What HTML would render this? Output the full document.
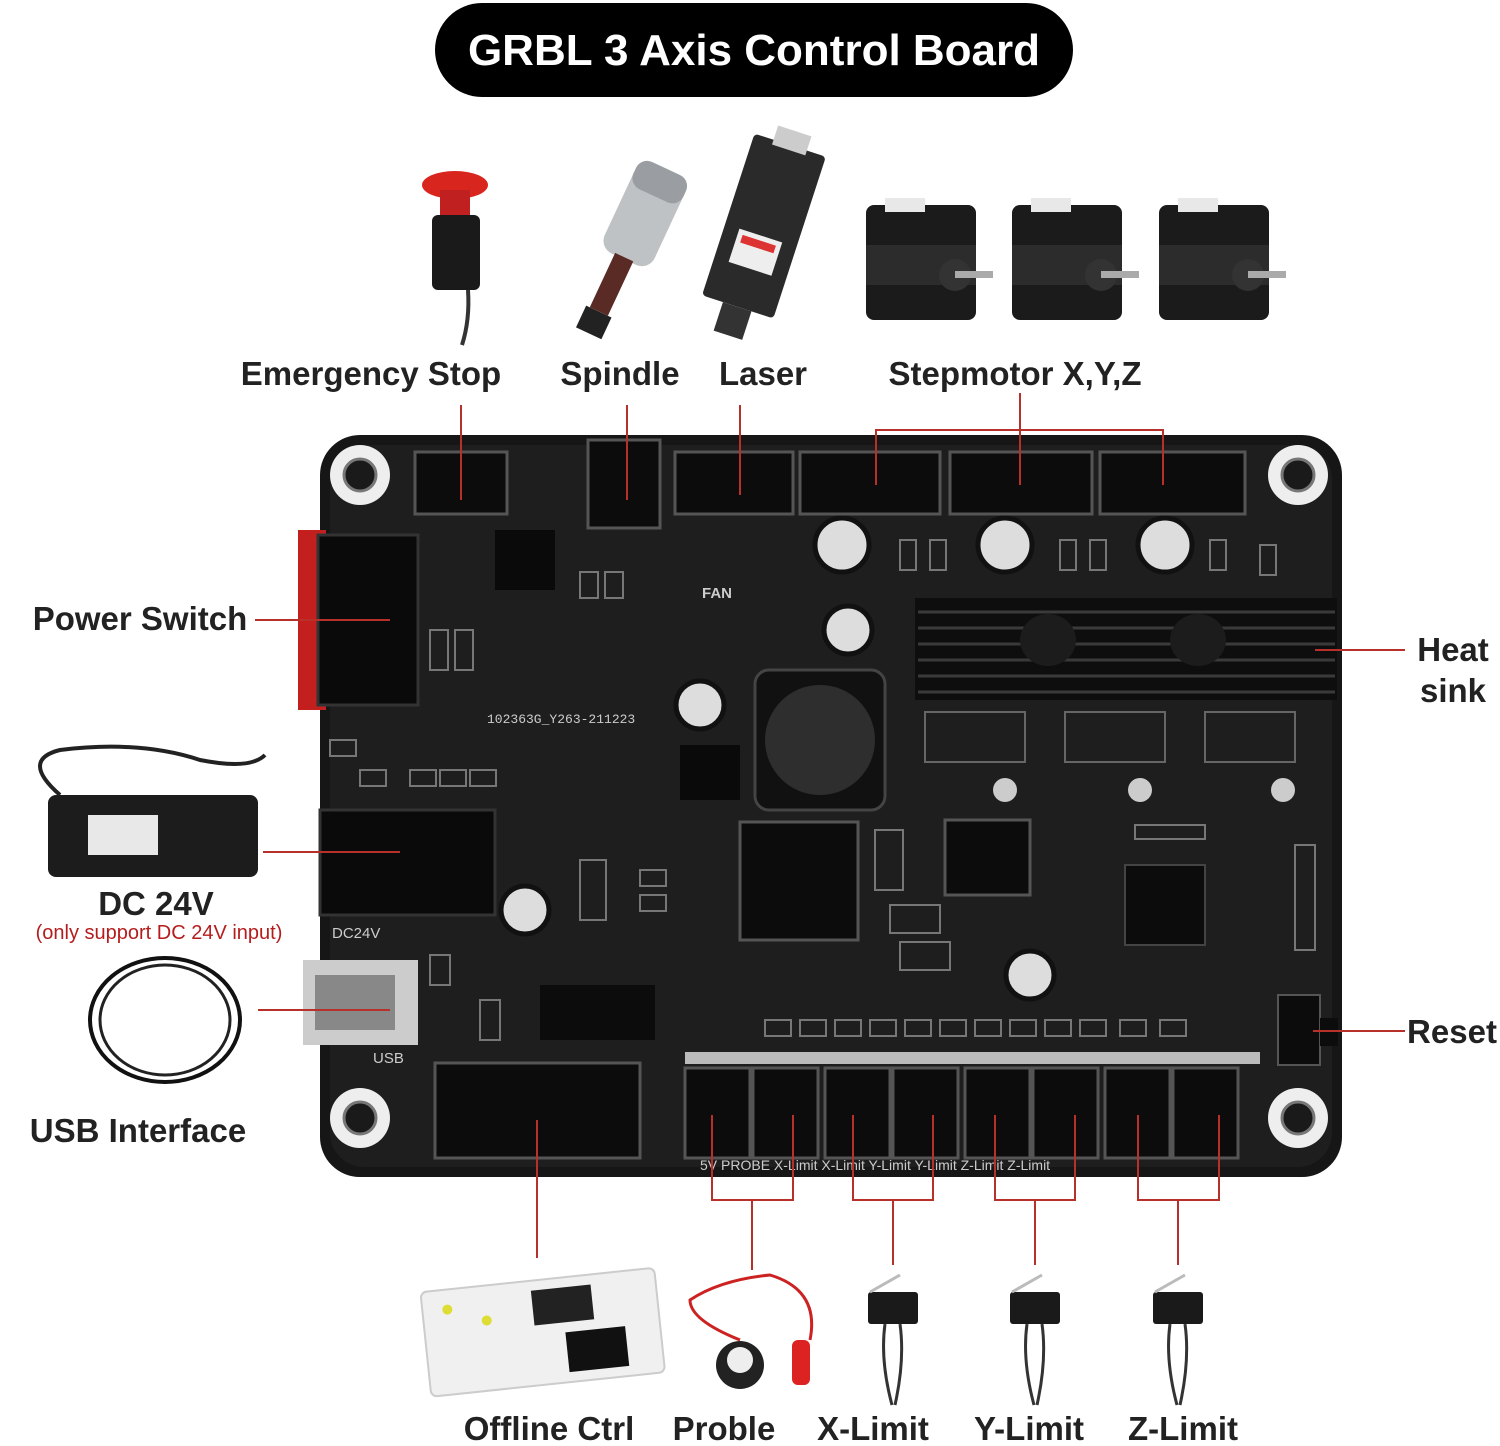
<!DOCTYPE html>
<html><head><meta charset="utf-8"><style>
html,body{margin:0;padding:0;background:#fff;width:1500px;height:1446px;overflow:hidden}
svg{display:block}
text{font-family:"Liberation Sans","DejaVu Sans",sans-serif;font-weight:bold;fill:#222}
</style></head><body>
<svg width="1500" height="1446" viewBox="0 0 1500 1446" xmlns="http://www.w3.org/2000/svg">
<rect x="435" y="3" width="638" height="94" rx="47" fill="#000"/>
<text x="754" y="65" font-size="44" text-anchor="middle" style="fill:#fff">GRBL 3 Axis Control Board</text>

<ellipse cx="455" cy="185" rx="33" ry="14" fill="#d8261f"/>
<rect x="440" y="190" width="30" height="25" fill="#c02020"/>
<rect x="432" y="215" width="48" height="75" rx="6" fill="#1a1a1a"/>
<path d="M468 290 Q470 320 462 345" stroke="#333" stroke-width="4" fill="none"/>
<g transform="rotate(25 630 240)">
<rect x="605" y="160" width="55" height="100" rx="14" fill="#bfc2c5"/>
<rect x="605" y="160" width="55" height="30" rx="12" fill="#9a9ea2"/>
<rect x="622" y="258" width="20" height="60" fill="#5a2a25"/>
<rect x="618" y="318" width="28" height="24" fill="#222"/>
</g>
<g transform="rotate(18 760 230)">
<rect x="725" y="140" width="75" height="170" rx="4" fill="#2a2a2a"/>
<rect x="740" y="235" width="45" height="35" fill="#eee"/>
<rect x="745" y="240" width="35" height="8" fill="#d33"/>
<rect x="747" y="310" width="30" height="30" fill="#333"/>
<rect x="745" y="125" width="35" height="20" fill="#ccc"/>
</g>
<g id="m"><rect x="866" y="205" width="110" height="115" rx="8" fill="#1b1b1b"/><rect x="866" y="245" width="110" height="40" fill="#2c2c2c"/><circle cx="955" cy="275" r="16" fill="#333"/><rect x="955" y="271" width="38" height="7" fill="#aaa"/><rect x="885" y="198" width="40" height="14" fill="#e8e8e8"/></g>
<use href="#m" x="146"/><use href="#m" x="293"/>

<text x="371" y="385" font-size="33" text-anchor="middle">Emergency Stop</text>
<text x="620" y="385" font-size="33" text-anchor="middle">Spindle</text>
<text x="763" y="385" font-size="33" text-anchor="middle">Laser</text>
<text x="1015" y="385" font-size="33" text-anchor="middle">Stepmotor X,Y,Z</text>

<rect x="320" y="435" width="1022" height="742" rx="40" fill="#161616"/>
<rect x="330" y="445" width="1002" height="722" rx="34" fill="#1e1e1e"/>
<g fill="#eee"><circle cx="360" cy="475" r="30"/><circle cx="1298" cy="475" r="30"/><circle cx="360" cy="1118" r="30"/><circle cx="1298" cy="1118" r="30"/></g>
<g fill="#1a1a1a" stroke="#777" stroke-width="3"><circle cx="360" cy="475" r="16"/><circle cx="1298" cy="475" r="16"/><circle cx="360" cy="1118" r="16"/><circle cx="1298" cy="1118" r="16"/></g>
<!-- small smd parts -->
<g fill="none" stroke="#777" stroke-width="2">
<rect x="580" y="572" width="18" height="26"/><rect x="605" y="572" width="18" height="26"/><rect x="430" y="630" width="18" height="40"/><rect x="455" y="630" width="18" height="40"/>
<rect x="330" y="740" width="26" height="16"/><rect x="360" y="770" width="26" height="16"/><rect x="410" y="770" width="26" height="16"/><rect x="440" y="770" width="26" height="16"/><rect x="470" y="770" width="26" height="16"/>
<rect x="900" y="540" width="16" height="30"/><rect x="930" y="540" width="16" height="30"/><rect x="1060" y="540" width="16" height="30"/><rect x="1090" y="540" width="16" height="30"/><rect x="1210" y="540" width="16" height="30"/><rect x="1260" y="545" width="16" height="30"/>
<rect x="640" y="870" width="26" height="16"/><rect x="640" y="895" width="26" height="16"/><rect x="580" y="860" width="26" height="60"/>
<rect x="890" y="905" width="50" height="28"/><rect x="900" y="942" width="50" height="28"/><rect x="875" y="830" width="28" height="60"/>
<rect x="765" y="1020" width="26" height="16"/><rect x="800" y="1020" width="26" height="16"/><rect x="835" y="1020" width="26" height="16"/><rect x="870" y="1020" width="26" height="16"/><rect x="905" y="1020" width="26" height="16"/><rect x="940" y="1020" width="26" height="16"/><rect x="975" y="1020" width="26" height="16"/><rect x="1010" y="1020" width="26" height="16"/><rect x="1045" y="1020" width="26" height="16"/><rect x="1080" y="1020" width="26" height="16"/><rect x="1120" y="1020" width="26" height="16"/><rect x="1160" y="1020" width="26" height="16"/>
<rect x="1135" y="825" width="70" height="14"/><rect x="1295" y="845" width="20" height="105"/>
<rect x="480" y="1000" width="20" height="40"/><rect x="430" y="955" width="20" height="30"/>
</g>
<g fill="#ccc"><circle cx="1005" cy="790" r="12"/><circle cx="1140" cy="790" r="12"/><circle cx="1283" cy="790" r="12"/></g>
<g fill="#0c0c0c" stroke="#555" stroke-width="3">
<rect x="415" y="452" width="92" height="62"/>
<rect x="588" y="440" width="72" height="88"/>
<rect x="675" y="452" width="118" height="62"/>
<rect x="800" y="452" width="140" height="62"/>
<rect x="950" y="452" width="142" height="62"/>
<rect x="1100" y="452" width="145" height="62"/>
</g>
<rect x="298" y="530" width="28" height="180" fill="#c41f1f"/>
<rect x="318" y="535" width="100" height="170" fill="#0a0a0a" stroke="#333" stroke-width="3"/>
<rect x="915" y="598" width="422" height="102" fill="#0e0e0e"/>
<g stroke="#3a3a3a" stroke-width="3"><line x1="918" y1="612" x2="1335" y2="612"/><line x1="918" y1="628" x2="1335" y2="628"/><line x1="918" y1="644" x2="1335" y2="644"/><line x1="918" y1="660" x2="1335" y2="660"/><line x1="918" y1="676" x2="1335" y2="676"/><line x1="918" y1="692" x2="1335" y2="692"/></g>
<ellipse cx="1048" cy="640" rx="28" ry="26" fill="#1c1c1c"/><ellipse cx="1198" cy="640" rx="28" ry="26" fill="#1c1c1c"/>
<g fill="#ddd" stroke="#111" stroke-width="5"><circle cx="842" cy="545" r="27"/><circle cx="1005" cy="545" r="27"/><circle cx="1165" cy="545" r="27"/><circle cx="848" cy="630" r="24"/><circle cx="700" cy="705" r="24"/><circle cx="525" cy="910" r="24"/><circle cx="1030" cy="975" r="24"/></g>
<rect x="755" y="670" width="130" height="140" rx="14" fill="#111" stroke="#444" stroke-width="3"/>
<circle cx="820" cy="740" r="55" fill="#2e2e2e"/>
<rect x="1125" y="865" width="80" height="80" fill="#0c0c0c" stroke="#444" stroke-width="2"/>
<rect x="540" y="985" width="115" height="55" fill="#0c0c0c"/>
<rect x="740" y="822" width="118" height="118" fill="#0c0c0c" stroke="#555" stroke-width="3"/>
<rect x="945" y="820" width="85" height="75" fill="#0c0c0c" stroke="#555" stroke-width="3"/>
<rect x="680" y="745" width="60" height="55" fill="#0a0a0a"/>
<rect x="495" y="530" width="60" height="60" fill="#0a0a0a"/>
<g fill="none" stroke="#666" stroke-width="2">
<rect x="925" y="712" width="100" height="50"/><rect x="1065" y="712" width="100" height="50"/><rect x="1205" y="712" width="90" height="50"/>
</g>
<text x="487" y="723" font-size="13" style="fill:#ccc;font-weight:normal;font-family:'Liberation Mono',monospace">102363G_Y263-211223</text>
<text x="702" y="598" font-size="15" style="fill:#ccc">FAN</text>
<text x="332" y="938" font-size="15" style="fill:#ccc;font-weight:normal">DC24V</text>
<text x="373" y="1063" font-size="15" style="fill:#ccc;font-weight:normal">USB</text>
<rect x="320" y="810" width="175" height="105" fill="#0a0a0a" stroke="#333" stroke-width="3"/>
<rect x="303" y="960" width="115" height="85" fill="#ccc"/>
<rect x="315" y="975" width="80" height="55" fill="#888"/>
<rect x="1278" y="995" width="42" height="70" fill="#0c0c0c" stroke="#555" stroke-width="2"/>
<rect x="1320" y="1018" width="18" height="28" fill="#0c0c0c"/>
<rect x="685" y="1052" width="575" height="12" fill="#bbb"/>
<g fill="#0c0c0c" stroke="#555" stroke-width="3">
<rect x="435" y="1063" width="205" height="95"/>
<rect x="685" y="1068" width="65" height="90"/><rect x="753" y="1068" width="65" height="90"/>
<rect x="825" y="1068" width="65" height="90"/><rect x="893" y="1068" width="65" height="90"/>
<rect x="965" y="1068" width="65" height="90"/><rect x="1033" y="1068" width="65" height="90"/>
<rect x="1105" y="1068" width="65" height="90"/><rect x="1173" y="1068" width="65" height="90"/>
</g>
<text x="700" y="1170" font-size="14" style="fill:#ccc;font-weight:normal">5V  PROBE X-Limit X-Limit Y-Limit Y-Limit Z-Limit Z-Limit</text>

<text x="140" y="630" font-size="33" text-anchor="middle">Power Switch</text>
<text x="1453" y="661" font-size="33" text-anchor="middle">Heat</text>
<text x="1453" y="702" font-size="33" text-anchor="middle">sink</text>
<text x="156" y="915" font-size="33" text-anchor="middle">DC 24V</text>
<text x="159" y="939" font-size="20" text-anchor="middle" style="fill:#b51d1d;font-weight:normal">(only support DC 24V input)</text>
<text x="138" y="1142" font-size="33" text-anchor="middle">USB Interface</text>
<text x="1452" y="1043" font-size="33" text-anchor="middle">Reset</text>

<rect x="48" y="795" width="210" height="82" rx="8" fill="#1c1c1c"/>
<rect x="88" y="815" width="70" height="40" fill="#e8e8e8"/>
<path d="M60 795 Q20 760 60 750 Q140 740 200 760 Q250 770 265 755" stroke="#222" stroke-width="4" fill="none"/>
<ellipse cx="165" cy="1020" rx="75" ry="62" stroke="#111" stroke-width="4" fill="none"/>
<ellipse cx="165" cy="1020" rx="65" ry="55" stroke="#222" stroke-width="3" fill="none"/>

<g transform="rotate(-6 540 1330)">
<rect x="425" y="1280" width="235" height="105" rx="6" fill="#f0f0f0" stroke="#ccc" stroke-width="2"/>
<rect x="535" y="1290" width="60" height="35" fill="#222"/>
<rect x="565" y="1335" width="60" height="40" fill="#111"/>
<circle cx="450" cy="1300" r="5" fill="#dd3"/><circle cx="488" cy="1315" r="5" fill="#dd3"/>
</g>
<circle cx="740" cy="1365" r="24" fill="#222"/><circle cx="740" cy="1360" r="13" fill="#eee"/>
<path d="M740 1340 Q690 1320 690 1300 Q720 1280 770 1275 Q820 1290 810 1340" stroke="#c22" stroke-width="3" fill="none"/>
<rect x="792" y="1340" width="18" height="45" rx="6" fill="#d22"/>
<g id="ls"><rect x="868" y="1292" width="50" height="32" rx="3" fill="#1a1a1a"/><path d="M870 1292 L900 1275" stroke="#bbb" stroke-width="3"/><path d="M885 1324 Q880 1360 892 1405 M900 1324 Q905 1360 895 1405" stroke="#333" stroke-width="3" fill="none"/></g>
<use href="#ls" x="142"/><use href="#ls" x="285"/>

<g font-size="33" text-anchor="middle">
<text x="549" y="1440">Offline Ctrl</text>
<text x="724" y="1440">Proble</text>
<text x="873" y="1440">X-Limit</text>
<text x="1029" y="1440">Y-Limit</text>
<text x="1183" y="1440">Z-Limit</text>
</g>

<g stroke="#b8302a" stroke-width="2" fill="none">
<line x1="461" y1="405" x2="461" y2="500"/>
<line x1="627" y1="405" x2="627" y2="500"/>
<line x1="740" y1="405" x2="740" y2="495"/>
<line x1="1020" y1="393" x2="1020" y2="485"/>
<polyline points="876,485 876,430 1163,430 1163,485"/>
<line x1="255" y1="620" x2="390" y2="620"/>
<line x1="1315" y1="650" x2="1405" y2="650"/>
<line x1="263" y1="852" x2="400" y2="852"/>
<line x1="258" y1="1010" x2="390" y2="1010"/>
<line x1="1313" y1="1031" x2="1405" y2="1031"/>
<line x1="537" y1="1120" x2="537" y2="1258"/>
<polyline points="712,1115 712,1200 793,1200 793,1115"/><line x1="752" y1="1200" x2="752" y2="1270"/>
<polyline points="853,1115 853,1200 933,1200 933,1115"/><line x1="893" y1="1200" x2="893" y2="1265"/>
<polyline points="995,1115 995,1200 1075,1200 1075,1115"/><line x1="1035" y1="1200" x2="1035" y2="1265"/>
<polyline points="1138,1115 1138,1200 1219,1200 1219,1115"/><line x1="1178" y1="1200" x2="1178" y2="1265"/>
</g>
</svg>
</body></html>
